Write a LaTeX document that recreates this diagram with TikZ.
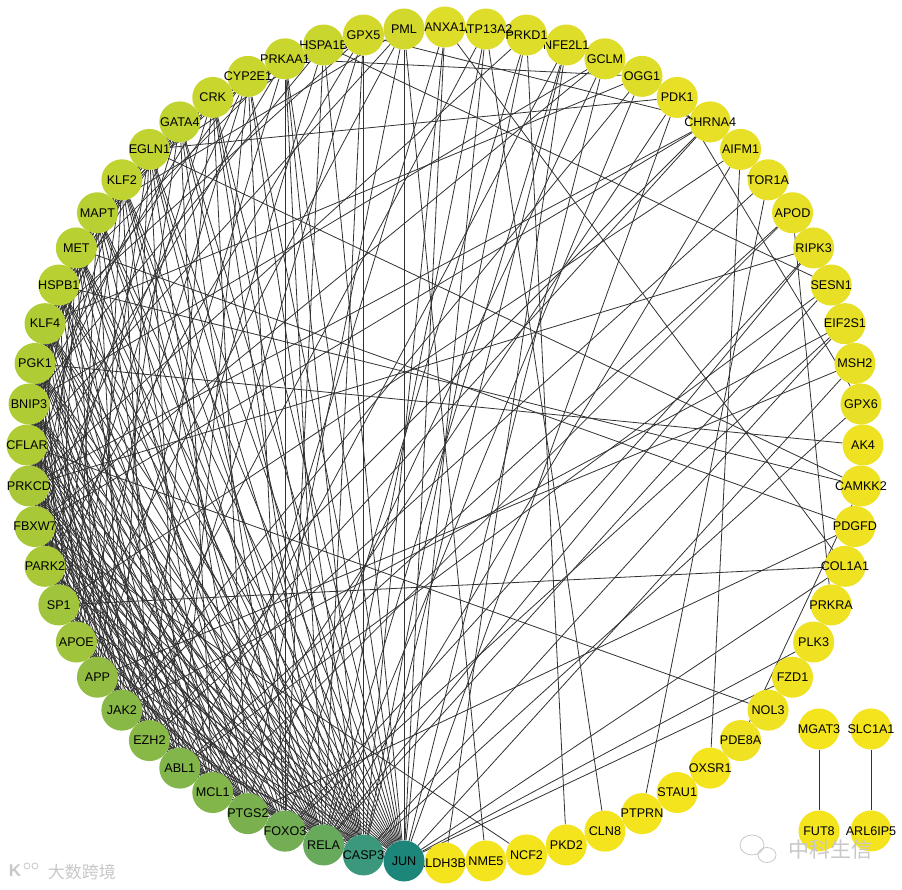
\documentclass[tikz,border=0pt]{standalone}
\usepackage{fontspec}
\setmainfont{Liberation Sans}
\newfontfamily\cjk{Noto Sans CJK SC}
\definecolor{k0}{RGB}{28,134,122}
\definecolor{k1}{RGB}{59,152,125}
\definecolor{k2}{RGB}{104,170,92}
\definecolor{k3}{RGB}{116,174,84}
\definecolor{k4}{RGB}{122,177,78}
\definecolor{k5}{RGB}{130,181,74}
\definecolor{k6}{RGB}{136,184,70}
\definecolor{k7}{RGB}{146,189,66}
\definecolor{k8}{RGB}{160,196,60}
\definecolor{k9}{RGB}{168,200,56}
\definecolor{k10}{RGB}{176,204,52}
\definecolor{k11}{RGB}{184,208,50}
\definecolor{k12}{RGB}{192,211,48}
\definecolor{k13}{RGB}{200,214,46}
\definecolor{k14}{RGB}{210,217,44}
\definecolor{k15}{RGB}{222,221,42}
\definecolor{k16}{RGB}{232,224,38}
\definecolor{k17}{RGB}{238,226,34}
\definecolor{k18}{RGB}{244,228,30}
\definecolor{edgec}{RGB}{50,50,50}
\definecolor{wm}{RGB}{200,200,200}
\pgfdeclarelayer{bg}
\pgfsetlayers{bg,main}
\newcommand\gnode[3]{\node[nd,fill=#3] (n#1) at ({-95.625-5.625*#1}:418) {\makebox[0pt]{#2}};}
\begin{document}
\begin{tikzpicture}[x=1pt,y=1pt,
  nd/.style={circle,minimum size=41pt,inner sep=0pt,font=\fontsize{12.6}{12.6}\selectfont,text=black},
  ed/.style={draw=edgec,line width=0.8pt}]
\useasboundingbox (-445,-445) rectangle (457,445);
\begin{pgfonlayer}{bg}
\fill[white] (-445,-445) rectangle (457,445);
\end{pgfonlayer}
% nodes (reverse order so later ones cover overflowing labels)
\gnode{63}{ALDH3B1}{k18}
\gnode{62}{NME5}{k18}
\gnode{61}{NCF2}{k18}
\gnode{60}{PKD2}{k18}
\gnode{59}{CLN8}{k18}
\gnode{58}{PTPRN}{k18}
\gnode{57}{STAU1}{k18}
\gnode{56}{OXSR1}{k18}
\gnode{55}{PDE8A}{k17}
\gnode{54}{NOL3}{k17}
\gnode{53}{FZD1}{k17}
\gnode{52}{PLK3}{k17}
\gnode{51}{PRKRA}{k17}
\gnode{50}{COL1A1}{k17}
\gnode{49}{PDGFD}{k17}
\gnode{48}{CAMKK2}{k17}
\gnode{47}{AK4}{k17}
\gnode{46}{GPX6}{k16}
\gnode{45}{MSH2}{k16}
\gnode{44}{EIF2S1}{k16}
\gnode{43}{SESN1}{k16}
\gnode{42}{RIPK3}{k16}
\gnode{41}{APOD}{k16}
\gnode{40}{TOR1A}{k16}
\gnode{39}{AIFM1}{k16}
\gnode{38}{CHRNA4}{k16}
\gnode{37}{PDK1}{k16}
\gnode{36}{OGG1}{k15}
\gnode{35}{GCLM}{k15}
\gnode{34}{NFE2L1}{k15}
\gnode{33}{PRKD1}{k15}
\gnode{32}{ATP13A2}{k15}
\gnode{31}{ANXA1}{k15}
\gnode{30}{PML}{k14}
\gnode{28}{HSPA1B}{k13}
\gnode{29}{GPX5}{k14}
\gnode{27}{PRKAA1}{k13}
\gnode{26}{CYP2E1}{k13}
\gnode{25}{CRK}{k13}
\gnode{24}{GATA4}{k12}
\gnode{23}{EGLN1}{k12}
\gnode{22}{KLF2}{k12}
\gnode{21}{MAPT}{k11}
\gnode{20}{MET}{k11}
\gnode{19}{HSPB1}{k11}
\gnode{18}{KLF4}{k10}
\gnode{17}{PGK1}{k10}
\gnode{16}{BNIP3}{k10}
\gnode{15}{CFLAR}{k10}
\gnode{14}{PRKCD}{k9}
\gnode{13}{FBXW7}{k9}
\gnode{12}{PARK2}{k9}
\gnode{11}{SP1}{k8}
\gnode{10}{APOE}{k8}
\gnode{9}{APP}{k7}
\gnode{8}{JAK2}{k6}
\gnode{7}{EZH2}{k6}
\gnode{6}{ABL1}{k5}
\gnode{5}{MCL1}{k5}
\gnode{4}{PTGS2}{k4}
\gnode{3}{FOXO3}{k3}
\gnode{2}{RELA}{k2}
\gnode{1}{CASP3}{k1}
\gnode{0}{JUN}{k0}
% separate pairs
\node[nd,fill=k18] (mgat) at (374,-284) {\makebox[0pt]{MGAT3}};
\node[nd,fill=k18] (fut) at (374,-386) {\makebox[0pt]{FUT8}};
\node[nd,fill=k18] (slc) at (426,-284) {\makebox[0pt]{SLC1A1}};
\node[nd,fill=k18] (arl) at (426,-386) {\makebox[0pt]{ARL6IP5}};
% edges
\begin{pgfonlayer}{bg}
\draw[ed] (mgat) -- (fut);
\draw[ed] (slc) -- (arl);
\foreach \a/\b in {
0/5,0/7,0/9,0/11,0/12,0/13,0/14,0/15,0/16,0/17,0/18,0/19,0/20,0/21,0/22,0/23,0/24,0/25,0/26,0/27,0/28,0/30,0/31,0/32,0/35,0/37,0/45,0/50,0/52,0/53,
1/6,1/8,1/10,1/12,1/13,1/14,1/15,1/16,1/17,1/18,1/19,1/20,1/21,1/22,1/23,1/24,1/25,1/26,1/27,1/29,1/31,1/33,1/34,1/44,1/46,
2/7,2/9,2/11,2/13,2/14,2/15,2/16,2/17,2/18,2/19,2/20,2/21,2/22,2/23,2/25,2/27,2/29,2/32,2/34,2/36,2/39,2/42,2/43,
3/8,3/10,3/12,3/13,3/14,3/15,3/16,3/17,3/18,3/20,3/22,3/24,3/26,3/27,3/28,3/33,3/42,3/44,
4/9,4/11,4/13,4/14,4/15,4/16,4/17,4/18,4/19,4/21,4/23,4/25,4/30,4/35,4/49,
5/10,5/12,5/13,5/14,5/15,5/16,5/17,5/19,5/20,5/22,5/24,5/31,5/37,5/41,
6/11,6/13,6/14,6/15,6/16,6/18,6/19,6/21,6/23,6/26,6/34,6/41,6/43,
7/12,7/14,7/15,7/16,7/17,7/18,7/20,7/22,7/25,7/29,7/38,7/40,
8/13,8/15,8/16,8/17,8/18,8/19,8/21,8/23,8/28,8/32,8/36,8/38,8/44,
9/14,9/15,9/16,9/17,9/18,9/20,9/22,9/24,9/27,9/45,
10/14,10/15,10/16,10/17,10/19,10/21,10/23,10/26,10/30,
11/15,11/16,11/17,11/18,11/20,11/22,11/25,11/39,11/50,
12/16,12/17,12/18,12/20,12/24,12/29,
13/17,13/18,13/19,13/21,13/26,13/35,13/38,13/61,
14/18,14/19,14/20,14/22,14/27,14/33,14/38,14/42,
15/19,15/20,15/21,15/24,15/30,15/54,
16/20,16/21,16/22,16/25,16/28,16/35,
17/21,17/22,17/23,17/26,17/47,
18/22,18/23,18/24,18/29,18/36,
19/23,19/24,19/27,19/48,
20/24,20/25,20/49,
21/25,21/26,21/30,
22/26,22/28,
23/27,23/37,23/48,
24/28,25/29,26/30,27/36,28/43,29/38,30/62,31/50,32/59,33/60,34/63,37/46,39/56,40/58,41/51,48/55,56/57}
  \draw[ed] (n\a) -- (n\b);
\end{pgfonlayer}
% watermarks
\draw[wm,line width=0.8pt] (307,-400) ellipse (12 and 10);
\draw[wm,line width=0.8pt] (322,-410) ellipse (9 and 7.5);
\node[text=wm,font=\cjk\fontsize{21}{21}\selectfont,inner sep=0pt] (wmr) at (385,-405) {中科生信};
\node[text=wm,font=\bfseries\fontsize{17}{17}\selectfont,inner sep=0pt] (wmk) at (-430,-426) {K};
\draw[wm,line width=0.8pt] (-418,-421) circle (3);
\draw[wm,line width=0.8pt] (-410,-421) circle (3);
\node[text=wm,font=\cjk\fontsize{17}{17}\selectfont,inner sep=0pt] (wml) at (-363,-427) {大数跨境};
\end{tikzpicture}
\end{document}
